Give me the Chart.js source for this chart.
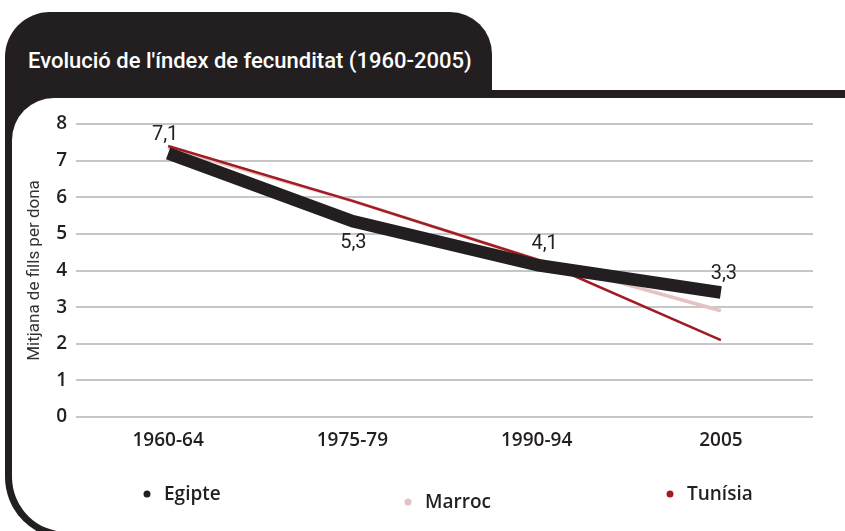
<!DOCTYPE html>
<html>
<head>
<meta charset="utf-8">
<script src="https://cdn.jsdelivr.net/npm/chart.js@4/dist/chart.umd.min.js"></script>
<style>
  html, body { margin: 0; padding: 0; }
  body { width: 845px; height: 531px; position: relative; overflow: hidden; background: #fff; }
  .blk { position: absolute; background: #231f20; }
  #tab { left: 5px; top: 12px; width: 487px; height: 86px; border-radius: 45px 42px 0 0; }
  #outer { left: 5px; top: 90px; width: 845px; height: 449px; border-bottom-left-radius: 62px; }
  #inner { position: absolute; left: 12px; top: 98px; width: 840px; height: 434px; background: #fff;
           border-top-left-radius: 42px; border-bottom-left-radius: 55px; }
  #title { position: absolute; left: 28px; top: 48px; color: #fff; font-family: Roboto, sans-serif;
           font-weight: 500; font-size: 22px; line-height: 26px; white-space: nowrap; }
  #c { position: absolute; left: 0; top: 0; }
</style>
</head>
<body>
<div id="tab" class="blk"></div>
<div id="outer" class="blk"></div>
<div id="inner"></div>
<div id="title">Evolució de l'índex de fecunditat (1960-2005)</div>
<canvas id="c" width="845" height="531"></canvas>
<script>
// ---- data ----
const categories = ['1960-64', '1975-79', '1990-94', '2005'];
const egipte  = [7.2, 5.35, 4.15, 3.4];
const marroc  = [7.35, 5.9, 4.3, 2.9];
const tunisia = [7.4, 5.9, 4.3, 2.1];
const egipteLabels = ['7,1', '5,3', '4,1', '3,3'];
const yTicks = [0, 1, 2, 3, 4, 5, 6, 7, 8];
const yTitle = 'Mitjana de fills per dona';

const valueLabels = {
  id: 'valueLabels',
  afterDatasetsDraw(chart, args, opts) {
    const meta = chart.getDatasetMeta(0);
    const ctx = chart.ctx;
    ctx.save();
    ctx.font = '20px Roboto';
    ctx.fillStyle = '#231f20';
    ctx.textAlign = 'center';
    ctx.textBaseline = 'middle';
    meta.data.forEach((pt, i) => {
      ctx.fillText(egipteLabels[i], pt.x + opts.dx[i], pt.y + opts.dy[i]);
    });
    ctx.restore();
  }
};

const customLegend = {
  id: 'customLegend',
  afterDraw(chart, args, opts) {
    const ctx = chart.ctx;
    ctx.save();
    ctx.font = '600 19px "Open Sans"';
    ctx.textBaseline = 'middle';
    ctx.textAlign = 'left';
    chart.data.datasets.forEach((ds, i) => {
      const p = opts.pos[i];
      ctx.fillStyle = ds.borderColor;
      ctx.beginPath();
      ctx.arc(p[0], p[1], 3.5, 0, Math.PI * 2);
      ctx.fill();
      ctx.fillStyle = '#231f20';
      ctx.fillText(ds.label, p[0] + 17, p[1] + 1);
    });
    ctx.restore();
  }
};

new Chart(document.getElementById('c'), {
  type: 'line',
  data: {
    labels: categories,
    datasets: [
      { label: 'Egipte', data: egipte, borderColor: '#231f20', borderWidth: 12.5, order: 0,
        pointRadius: 0, borderJoinStyle: 'round', borderCapStyle: 'butt' },
      { label: 'Marroc', data: marroc, borderColor: '#e6c2c3', borderWidth: 3.5, order: 2,
        pointRadius: 0 },
      { label: 'Tunísia', data: tunisia, borderColor: '#a01c22', borderWidth: 2.5, order: 1,
        pointRadius: 0 }
    ]
  },
  options: {
    responsive: false,
    animation: false,
    events: [],
    layout: { padding: { left: 25, top: 124, right: 32, bottom: 64 } },
    plugins: {
      legend: { display: false },
      tooltip: { enabled: false },
      valueLabels: { dx: [-3, 1, 8, 3], dy: [-18, 22, -21, -18] },
      customLegend: { pos: [[147, 494], [408, 502], [670, 494]] }
    },
    scales: {
      x: {
        offset: true,
        grid: { display: false, drawTicks: false },
        border: { display: false },
        ticks: { color: '#231f20', font: { family: 'Open Sans', weight: '600', size: 19 }, padding: 12 },
        afterFit(s) { s.height = 50; }
      },
      y: {
        min: 0, max: 8,
        afterBuildTicks(s) { s.ticks = yTicks.map(v => ({ value: v })); },
        grid: { color: '#c6c6c6', lineWidth: 2, drawTicks: false },
        border: { display: false },
        ticks: { color: '#231f20', font: { family: 'Open Sans', weight: '600', size: 19 }, padding: 9 },
        title: { display: true, text: yTitle, color: '#333', padding: 0,
                 font: { family: 'Roboto', size: 17, weight: '400' } },
        afterFit(s) { s.width = 51; }
      }
    }
  },
  plugins: [valueLabels, customLegend]
});
</script>
</body>
</html>
